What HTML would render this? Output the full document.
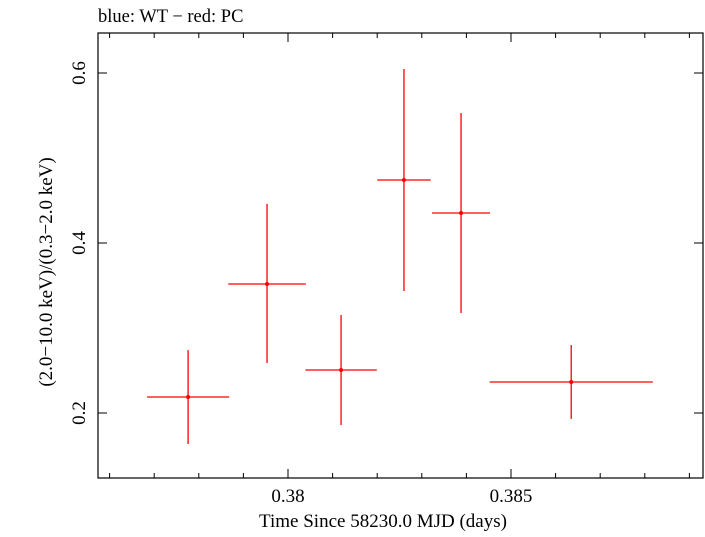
<!DOCTYPE html>
<html><head><meta charset="utf-8"><style>
html,body{margin:0;padding:0;background:#fff;}
svg text{font-family:"Liberation Serif",serif;fill:#000;}
</style></head><body>
<svg id="chart" width="705" height="532" xmlns="http://www.w3.org/2000/svg">
<text x="98" y="22" font-size="18.5">blue: WT − red: PC</text>
<rect x="98" y="33" width="605" height="445" fill="none" stroke="#000" stroke-width="1.2"/>
<g id="ticks"></g>
<g id="marks"></g>
<text x="383" y="527" font-size="19" text-anchor="middle">Time Since 58230.0 MJD (days)</text>
<text transform="translate(52,272) rotate(-90)" font-size="19" text-anchor="middle">(2.0−10.0 keV)/(0.3−2.0 keV)</text>
</svg>
<script>
const times=[0.37776,0.37953,0.38119,0.3826,0.38388,0.38635];
const timeErr=[0.00092,0.00087,0.0008,0.0006,0.00065,0.00183];
const ratios=[0.2188,0.3518,0.2506,0.4741,0.4353,0.2365];
const ratioHi=[0.274,0.446,0.3153,0.6047,0.553,0.28];
const ratioLo=[0.1635,0.2588,0.1859,0.3435,0.3176,0.193];
const xTicks=[0.38,0.385];
const xTickLabels=["0.38","0.385"];
const yTicks=[0.2,0.4,0.6];
const yTickLabels=["0.2","0.4","0.6"];
const L=98,R=703,T=33,B=478;
const x0=0.37574,x1=0.389305,y0=0.12353,y1=0.64706;
const sx=v=>L+(v-x0)/(x1-x0)*(R-L);
const sy=v=>B-(v-y0)/(y1-y0)*(B-T);
const NS='http://www.w3.org/2000/svg';
function mk(tag,attrs,parent){const e=document.createElementNS(NS,tag);for(const k in attrs)e.setAttribute(k,attrs[k]);parent.appendChild(e);return e;}
const tg=document.getElementById('ticks');
for(let i=Math.ceil(x0*1000);i<=Math.floor(x1*1000);i++){
  const v=i/1000, X=sx(v);
  const major=xTicks.some(t=>Math.abs(t-v)<1e-7);
  const len=major?9:5;
  const a=mk('line',{x1:X,y1:B,x2:X,y2:B-len,stroke:'#000','stroke-width':1},tg);
  
  
  const b=mk('line',{x1:X,y1:T,x2:X,y2:T+len,stroke:'#000','stroke-width':1},tg);
  
  
}
xTicks.forEach((v,i)=>{
  const t=mk('text',{x:sx(v),y:502,'font-size':19,'text-anchor':'middle'},tg);
  t.textContent=xTickLabels[i];
  
  
});
yTicks.forEach((v,i)=>{
  const Y=sy(v);
  const a=mk('line',{x1:L,y1:Y,x2:L+9,y2:Y,stroke:'#000','stroke-width':1},tg);
  
  
  const b=mk('line',{x1:R,y1:Y,x2:R-9,y2:Y,stroke:'#000','stroke-width':1},tg);
  
  
  const t=mk('text',{transform:`translate(85,${Y}) rotate(-90)`,'font-size':19,'text-anchor':'middle'},tg);
  t.textContent=yTickLabels[i];
  
  
});
const mg=document.getElementById('marks');
times.forEach((t,i)=>{
  const g=mk('g',{},mg);
  
  
  mk('line',{x1:sx(t-timeErr[i]),y1:sy(ratios[i]),x2:sx(t+timeErr[i]),y2:sy(ratios[i]),stroke:'#f00','stroke-width':1.3},g);
  mk('line',{x1:sx(t),y1:sy(ratioLo[i]),x2:sx(t),y2:sy(ratioHi[i]),stroke:'#f00','stroke-width':1.3},g);
  mk('circle',{cx:sx(t),cy:sy(ratios[i]),r:2,fill:'#f00'},g);
});
</script>
</body></html>
